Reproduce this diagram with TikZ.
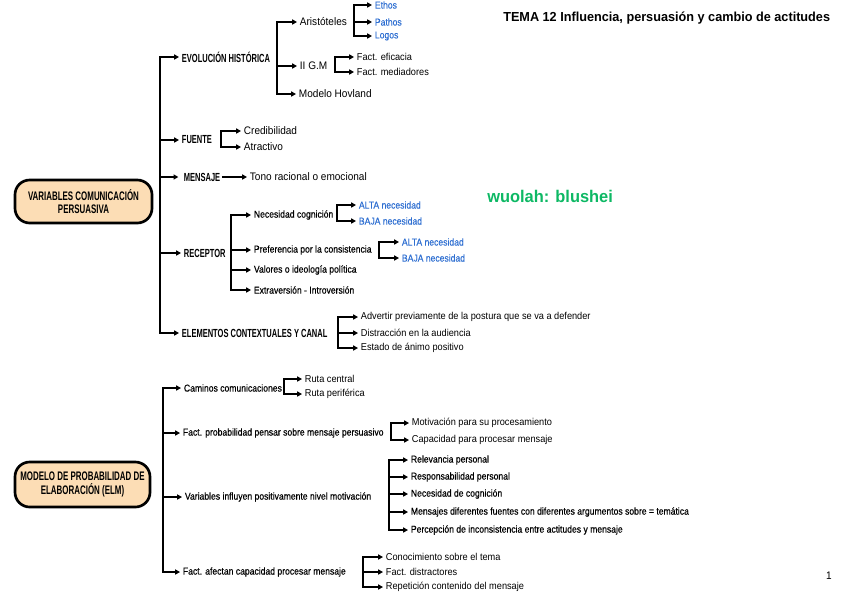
\documentclass[tikz,border=0pt]{standalone}
\usepackage{fontspec}
\setmainfont{Liberation Sans}
\newfontfamily\hfont{Liberation Sans}[FakeStretch=0.64]
\newfontfamily\sfont{Liberation Sans}[FakeStretch=0.92]
\newfontfamily\mfont{Liberation Sans}[FakeStretch=0.86,FakeBold=0.4]
\newfontfamily\tfont{Liberation Sans}[FakeStretch=0.97]
\usetikzlibrary{arrows.meta}
\definecolor{peach}{HTML}{FCDDB5}
\definecolor{lblue}{HTML}{2F6FD1}
\definecolor{wgreen}{HTML}{0DB864}
\tikzset{
  lbl/.style={anchor=west, inner xsep=2pt, inner ysep=1pt},
  lhead/.style={lbl, font=\hfont\bfseries\fontsize{8.8}{9}\selectfont},
  lbig/.style={lbl, font=\sfont\fontsize{8.2}{9}\selectfont},
  lsmall/.style={lbl, font=\sfont\fontsize{7.5}{9}\selectfont},
  lmed/.style={lbl, font=\mfont\fontsize{7.5}{9}\selectfont},
  lblu/.style={text=lblue},
  arr/.style={draw=black, line width=1.5pt, line join=miter, -{Triangle[length=3.6pt,width=3.8pt]}},
  plain/.style={draw=black, line width=1.5pt},
  rootbox/.style={draw=black, line width=2pt, fill=peach, rounded corners=11pt,
    align=center, font=\hfont\bfseries\fontsize{9.3}{10}\selectfont, inner sep=0pt},
}
\begin{document}
\begin{tikzpicture}[x=0.75pt,y=-0.75pt]
\useasboundingbox (0,0) rectangle (848,600);

% ---------- titles ----------
\node[anchor=west, inner sep=0pt, font=\tfont\bfseries\fontsize{9.8}{11}\selectfont] (title) at (503,18) {TEMA 12 Influencia, persuasión y cambio de actitudes};
\node[anchor=west, inner sep=0pt, text=wgreen, font=\tfont\bfseries\fontsize{12.7}{14}\selectfont] (wuo) at (487,196) {wuolah: blushei};
\node[anchor=center, inner sep=0pt, font=\sfont\fontsize{8.2}{9}\selectfont] (pnum) at (829,576) {1};

% ---------- root 1 ----------
\node[rootbox, minimum width=137*0.75pt, minimum height=43*0.75pt] (r1) at (83.5,201.5)
  {\baselineskip=15pt VARIABLES COMUNICACIÓN\\PERSUASIVA};
\coordinate (b0) at (160,201);

\node[lhead] (evo) at (179,57) {EVOLUCIÓN HISTÓRICA};
\node[lhead] (fue) at (179,140) {FUENTE};
\node[lhead] (men) at (181,177) {MENSAJE};
\node[lhead] (rec) at (181,253) {RECEPTOR};
\node[lhead] (ele) at (179,333) {ELEMENTOS CONTEXTUALES Y CANAL};
\foreach \n in {evo,fue,rec,ele} \draw[arr] (b0) |- (\n.west);
\draw[arr] (b0) |- ([xshift=-2pt]men.west);

% evolucion
\coordinate (evob) at (277,57);
\node[lbig] (ari) at (297,22) {Aristóteles};
\node[lbig] (igm) at (297,66) {II G.M};
\node[lbig] (hov) at (296,94) {Modelo Hovland};
\foreach \n in {ari,igm,hov} \draw[arr] (evob) |- (\n.west);

\coordinate (arib) at (354,22);
\node[lmed,lblu] (eth) at (372,5) {Ethos};
\node[lmed,lblu] (pat) at (372,22) {Pathos};
\node[lmed,lblu] (log) at (372,36) {Logos};
\foreach \n in {eth,pat,log} \draw[arr] (arib) |- (\n.west);

\coordinate (igmb) at (335,66);
\node[lsmall] (efi) at (354,57) {Fact. eficacia};
\node[lsmall] (med) at (354,72) {Fact. mediadores};
\foreach \n in {efi,med} \draw[arr] (igmb) |- (\n.west);

% fuente
\coordinate (fueb) at (221,140);
\node[lbig] (cre) at (241,131) {Credibilidad};
\node[lbig] (atr) at (241,147) {Atractivo};
\foreach \n in {cre,atr} \draw[arr] (fueb) |- (\n.west);

% mensaje
\node[lbig] (ton) at (247,177) {Tono racional o emocional};
\draw[arr] ([xshift=-1pt]men.east) -- (ton.west);

% receptor
\coordinate (recb) at (231,253);
\node[lmed] (nec) at (251,215) {Necesidad cognición};
\node[lmed] (pre) at (251,250) {Preferencia por la consistencia};
\node[lmed] (val) at (251,270) {Valores o ideología política};
\node[lmed] (ext) at (251,290) {Extraversión - Introversión};
\foreach \n in {nec,pre,val,ext} \draw[arr] (recb) |- (\n.west);

\coordinate (necb) at (337,215);
\node[lmed,lblu] (al1) at (356,205) {ALTA necesidad};
\node[lmed,lblu] (ba1) at (356,221) {BAJA necesidad};
\foreach \n in {al1,ba1} \draw[arr] (necb) |- (\n.west);

\coordinate (preb) at (379,250);
\node[lmed,lblu] (al2) at (399,242) {ALTA necesidad};
\node[lmed,lblu] (ba2) at (399,258) {BAJA necesidad};
\foreach \n in {al2,ba2} \draw[arr] (preb) |- (\n.west);

% elementos
\coordinate (eleb) at (338,333);
\node[lsmall] (adv) at (358,317) {Advertir previamente de la postura que se va a defender};
\node[lsmall] (dis) at (358,333) {Distracción en la audiencia};
\node[lsmall] (est) at (358,348) {Estado de ánimo positivo};
\foreach \n in {adv,dis,est} \draw[arr] (eleb) |- (\n.west);

% ---------- root 2 ----------
\node[rootbox, minimum width=135*0.75pt, minimum height=45*0.75pt] (r2) at (82.5,484.5)
  {\baselineskip=13pt MODELO DE PROBABILIDAD DE\\ELABORACIÓN (ELM)};
\coordinate (b1) at (163,484);

\node[lmed] (cam) at (181,388) {Caminos comunicaciones};
\node[lmed] (fpr) at (180,433) {Fact. probabilidad pensar sobre mensaje persuasivo};
\node[lmed] (var) at (182,497) {Variables influyen positivamente nivel motivación};
\node[lmed] (faf) at (180,572) {Fact. afectan capacidad procesar mensaje};
\foreach \n in {cam,fpr,var,faf} \draw[arr] (b1) |- (\n.west);

\coordinate (camb) at (284,388);
\node[lsmall] (rce) at (302,379) {Ruta central};
\node[lsmall] (rpe) at (302,394) {Ruta periférica};
\foreach \n in {rce,rpe} \draw[arr] (camb) |- (\n.west);

\coordinate (fprb) at (391,433);
\node[lsmall] (mot) at (409,423) {Motivación para su procesamiento};
\node[lsmall] (cap) at (409,440) {Capacidad para procesar mensaje};
\foreach \n in {mot,cap} \draw[arr] (fprb) |- (\n.west);

\coordinate (varb) at (389,497);
\node[lmed] (rel) at (408,460) {Relevancia personal};
\node[lmed] (res) at (408,477) {Responsabilidad personal};
\node[lmed] (ncg) at (408,494) {Necesidad de cognición};
\node[lmed] (mdf) at (408,512) {Mensajes diferentes fuentes con diferentes argumentos sobre = temática};
\node[lmed] (pin) at (408,530) {Percepción de inconsistencia entre actitudes y mensaje};
\foreach \n in {rel,res,ncg,mdf,pin} \draw[arr] (varb) |- (\n.west);

\coordinate (fafb) at (363,572);
\node[lsmall] (con) at (383,557) {Conocimiento sobre el tema};
\node[lsmall] (fdi) at (383,572) {Fact. distractores};
\node[lsmall] (rep) at (383,587) {Repetición contenido del mensaje};
\foreach \n in {con,fdi,rep} \draw[arr] (fafb) |- (\n.west);
\end{tikzpicture}
\end{document}
